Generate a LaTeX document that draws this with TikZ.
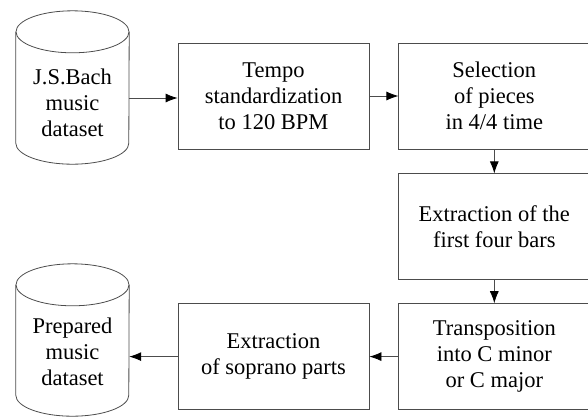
\documentclass[tikz,border=0pt]{standalone}
\usepackage{fontspec}
\setmainfont{Liberation Serif}
\usetikzlibrary{positioning,arrows.meta}

\begin{document}
\begin{tikzpicture}[x=1pt,y=-1pt,node distance=29pt,
	step box/.style={rectangle,draw=black!70,thick,fill=white,minimum width=191pt,minimum height=106pt,align=center,inner sep=0pt},
	db/.style={rectangle,minimum width=113pt,inner sep=0pt},
	db text/.style={align=center},
	db line/.style={draw=black!70,thick},
	flow/.style={-{Latex[length=12pt,width=9pt,black]},draw=black!70,thick},
	every node/.style={font=\fontsize{22.5}{26}\selectfont}]
\useasboundingbox (0,0) rectangle (588,416);

\node[db,minimum height=132pt,label={[db text,name=bachtxt,yshift=-5pt]center:J.S.Bach\\music\\dataset}] (bach) at (72.5,98) {};
\node[step box] (tempo) at (273.5,96) {Tempo\\standardization\\to 120 BPM};
\node[step box] (select) [right=of tempo] {Selection\\of pieces\\in 4/4 time};
\node[step box] (bars) [below=24pt of select] {Extraction of the\\first four bars};
\node[step box] (transp) [below=23pt of bars] {Transposition\\into C minor\\or C major};
\node[step box] (soprano) [left=of transp] {Extraction\\of soprano parts};
\node[db,minimum height=131pt,label={[db text,name=preptxt,yshift=-1.5pt]center:Prepared\\music\\dataset}] (prep) at (72.5,350.5) {};

% cylinders round the two datasets
\foreach \n in {bach,prep} {
  \draw[db line] (\n.north west) -- ([yshift=21pt]\n.south west)
    arc[start angle=180,end angle=360,x radius=56.5pt,y radius=21pt]
    -- (\n.north east);
  \draw[db line] (\n.north) ellipse [x radius=56.5pt,y radius=21pt];
}

\draw[flow] (bach.east) -- (bach.east -| tempo.west);
\draw[flow] (tempo) -- (select);
\draw[flow] (select) -- (bars);
\draw[flow] (bars) -- (transp);
\draw[flow] (transp) -- (soprano);
\draw[flow] (soprano) -- (soprano -| prep.east);
\end{tikzpicture}
\end{document}
